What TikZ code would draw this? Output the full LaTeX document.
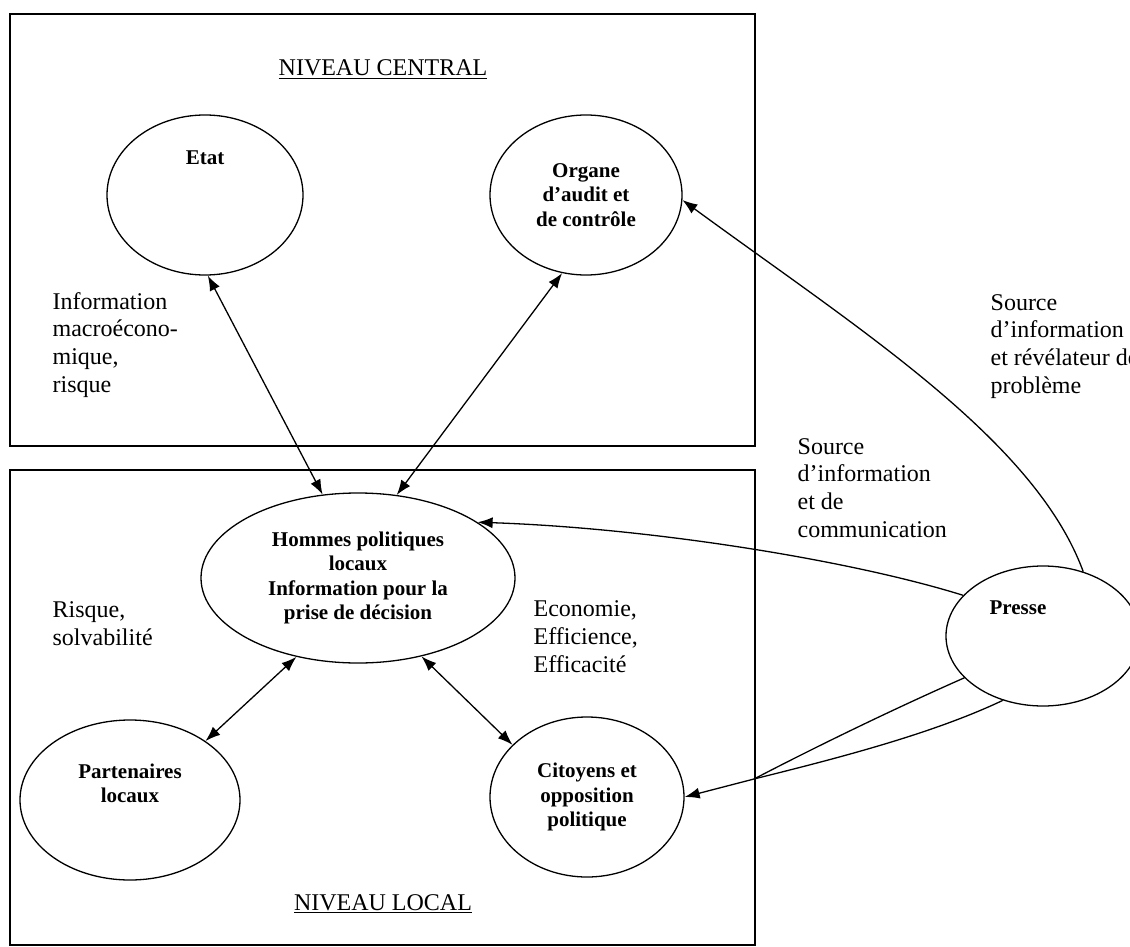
\documentclass[tikz,border=0pt]{standalone}
\usepackage{fontspec}
\setmainfont{Liberation Serif}
\usetikzlibrary{arrows.meta,shapes.geometric}

\begin{document}
\begin{tikzpicture}[x=1pt,y=-1pt,line width=1.3pt,
		gras/.style={inner sep=0pt,align=center,font=\fontsize{21}{24.2}\selectfont\bfseries},
		bulle/.style={gras,draw,ellipse},
		txt/.style={anchor=base west,align=left,inner sep=0pt,font=\fontsize{24}{27.6}\selectfont},
		fl/.style={-{Latex[length=15pt,width=11pt]}},
		dfl/.style={{Latex[length=15pt,width=11pt]}-{Latex[length=15pt,width=11pt]}}]
		\useasboundingbox (0,0) rectangle (1130,947);
		\clip (0,0) rectangle (1130,947);
		
		\draw (10,14) rectangle (755,446);
		\draw (10,470) rectangle (755,945);
		\node[txt,anchor=base] (central) at (383,76) {\underline{NIVEAU CENTRAL}};
		\node[txt,anchor=base] (local) at (383,910) {\underline{NIVEAU LOCAL}};
		
		\node[bulle,minimum width=196pt,minimum height=160pt,label={[gras,yshift=37pt]center:Etat}] (etat) at (205,195) {};
		\node[bulle,minimum width=192pt,minimum height=160pt] (organe) at (586,195) {Organe\\d’audit et\\de contrôle};
		\node[bulle,minimum width=314pt,minimum height=170pt] (hommes) at (358,578) {Hommes politiques\\locaux\\Information pour la\\prise de décision};
		\node[bulle,minimum width=220pt,minimum height=160pt,label={[gras,yshift=17pt]center:Partenaires\\locaux}] (partenaires) at (130,800) {};
		\node[bulle,minimum width=194pt,minimum height=160pt] (citoyens) at (587,797) {Citoyens et\\opposition\\politique};
		\node[bulle,minimum width=194pt,minimum height=140pt,label={[gras,xshift=-25pt,yshift=28pt]center:Presse}] (presse) at (1043,636) {};
		
		% textes (ancre = ligne de base de la derniere ligne)
		\node[txt] (macro) at (52,392) {Information\\macroécono-\\mique,\\risque};
		\node[txt] (risque) at (52,645) {Risque,\\solvabilité};
		\node[txt] (eco) at (533,672) {Economie,\\Efficience,\\Efficacité};
		\node[txt] (srccom) at (797,537) {Source\\d’information\\et de\\communication};
		\node[txt] (srcrev) at (990,393) {Source\\d’information\\et révélateur de\\problème};
		
		\draw[dfl] (etat.-88) -- (hommes.113);
		\draw[dfl] (organe.-107) -- (hommes.65);
		\draw[fl] (presse.58) .. controls (1035,440) and (860,330) .. (organe.-3);
		\draw[fl] (presse.153) .. controls (850,560) and (650,528) .. (hommes.25);
		\coordinate (jonction) at (754,779);
		\draw (presse.208) .. controls (880,715) and (800,755) .. (jonction);
		\draw (presse.-122) .. controls (930,735) and (830,760) .. (jonction);
		\draw[fl] (jonction) -- (citoyens.east);
		\draw[dfl] (hommes.-128) -- (partenaires.38);
		\draw[dfl] (hommes.-51) -- (citoyens.145);
\end{tikzpicture}
\end{document}
